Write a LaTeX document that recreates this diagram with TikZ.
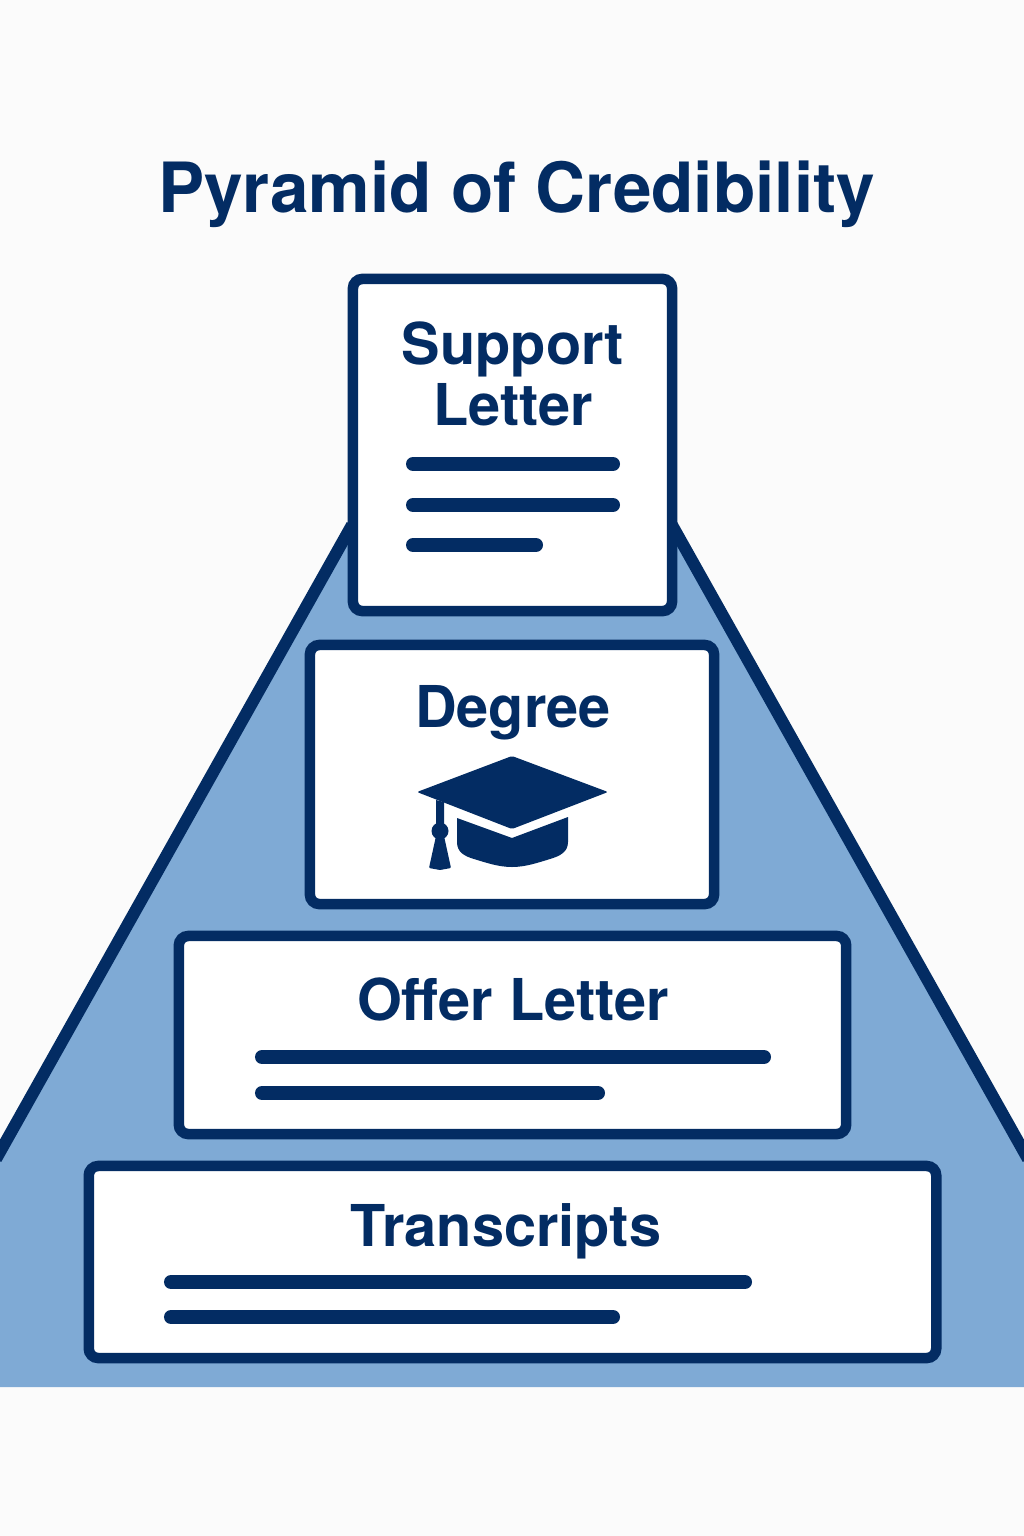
\documentclass[tikz,border=0pt]{standalone}
\usepackage{fontspec}
\setmainfont{TeX Gyre Heros}
\definecolor{inkblue}{HTML}{032C63}
\definecolor{pyramidblue}{HTML}{7FAAD5}
\definecolor{paperwhite}{HTML}{FBFBFB}
\tikzset{
  cardbox/.style={draw=inkblue,line width=0.105cm,fill=white,rounded corners=0.095cm,inner sep=0pt},
  cardlabel/.style={text=inkblue,font=\bfseries\fontsize{16.4}{17.07}\selectfont,align=center,inner sep=0pt,anchor=base},
  textbar/.style={draw=inkblue,line width=0.14cm,line cap=round},
  edgeline/.style={draw=inkblue,line width=0.12cm}
}
\begin{document}
\begin{tikzpicture}[x=0.01cm,y=-0.01cm]
  % Marking page
  \fill [paperwhite] (0,0) rectangle (1024,1536);
  \useasboundingbox (0,0) rectangle (1024,1536);

  % Drawing pyramid
  \fill [pyramidblue] (350,527) -- (674,527) -- (1024,1152) -- (1024,1387) -- (0,1387) -- (0,1152) -- cycle;
  \begin{scope}
  \clip (0,0) rectangle (1024,1536);
  \draw [edgeline] (352,525) -- (-4,1159);
  \draw [edgeline] (672,525) -- (1028,1159);
  \end{scope}

  % Marking title
  \node [text=inkblue,font=\bfseries\fontsize{19.7}{20}\selectfont,inner sep=0pt,anchor=base] (title) at (516.5,212) {Pyramid of Credibility};

  % Drawing card Support Letter
  \node [cardbox,minimum width=3.19cm,minimum height=3.32cm] (support) at (512.5,445) {};
  \node [cardlabel] (supportlabel) at (513,425) {Support\\Letter};
  \draw [textbar] (413,464) -- (613,464);
  \draw [textbar] (413,505) -- (613,505);
  \draw [textbar] (413,545) -- (536,545);

  % Drawing card Degree
  \node [cardbox,minimum width=4.04cm,minimum height=2.59cm] (degree) at (512,774.5) {};
  \node [cardlabel] (degreelabel) at (513,727) {Degree};

  % Drawing card Offer Letter
  \node [cardbox,minimum width=6.67cm,minimum height=1.98cm] (offer) at (512.5,1035) {};
  \node [cardlabel] (offerlabel) at (513,1020) {Offer Letter};
  \draw [textbar] (262,1057) -- (764,1057);
  \draw [textbar] (262,1093) -- (598,1093);

  % Drawing card Transcripts
  \node [cardbox,minimum width=8.47cm,minimum height=1.92cm] (transcripts) at (512.5,1262) {};
  \node [cardlabel] (transcriptslabel) at (506,1246) {Transcripts};
  \draw [textbar] (171,1282) -- (745,1282);
  \draw [textbar] (171,1317) -- (613,1317);

  % Drawing graduation cap
  \fill [inkblue,rounded corners=0.02cm] (512,756) -- (608,792) -- (512,829) -- (417,792) -- cycle;
  \fill [inkblue] (457,818) -- (512,838) -- (568,817) -- (568,842) .. controls (568,852) and (560,856) .. (550,859) .. controls (537,863) and (525,867) .. (512,867) .. controls (499,867) and (487,863) .. (474,859) .. controls (464,856) and (457,852) .. (457,842) -- cycle;
  % Marking tassel
  \fill [inkblue] (436,800) -- (444,802) -- (444,826) -- (436,826) -- cycle;
  \fill [inkblue] (440,831) circle (8.5);
  \fill [inkblue,rounded corners=0.01cm] (436,836) -- (444,836) -- (451,868) -- (440,870) -- (429,868) -- cycle;
\end{tikzpicture}
\end{document}
